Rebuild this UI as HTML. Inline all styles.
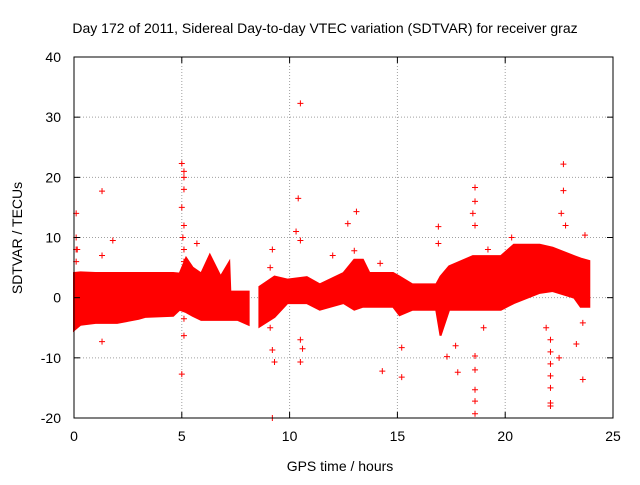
<!DOCTYPE html>
<html><head><meta charset="utf-8"><style>
body{margin:0;background:#fff}
svg text{font-family:"Liberation Sans",sans-serif;font-size:14px;fill:#000}
</style></head><body>
<svg id="chart" width="640" height="480" xmlns="http://www.w3.org/2000/svg">
<rect width="640" height="480" fill="#fff"/>
<text x="325" y="33" text-anchor="middle">Day 172 of 2011, Sidereal Day-to-day VTEC variation (SDTVAR) for receiver graz</text>
<text x="340" y="471" text-anchor="middle">GPS time / hours</text>
<text transform="translate(22,238) rotate(-90)" text-anchor="middle">SDTVAR / TECUs</text>
<g id="grid"></g><g id="band"></g><g id="pts"></g><g id="axes"></g>
</svg>
<script>
const xTicks=[0,5,10,15,20,25];
const yTicks=[-20,-10,0,10,20,30,40];
const bandT1=[0,0.3,1,2,3,3.3,4.6,4.9,5.2,5.5,5.9,6.3,6.8,7.2,7.25,7.6,8.1];
const bandU1=[4.1,4.2,4.1,4.1,4.1,4.1,4.1,4.0,6.6,5,4,7.1,3.5,5.9,1,1,1];
const bandL1=[-5.4,-4.5,-4.2,-4.2,-3.5,-3.2,-3.0,-2,-2.4,-3,-3.7,-3.7,-3.7,-3.7,-3.7,-3.7,-4.5];
const bandT2=[8.6,9.3,9.9,10.8,11.4,12.5,13.0,13.4,13.7,14.8,15.1,15.7,16.8,17.0,17.4,18.5,19.8,20.4,21.6,22.2,23.2,23.5,23.9];
const bandU2=[1.8,3.5,3.0,3.4,2.2,4.1,6.3,6.3,4.1,4.1,3.5,2.2,2.2,3.5,5.2,6.9,6.9,8.8,8.8,8.3,6.9,6.5,6.1];
const bandL2=[-4.8,-3.2,-0.9,-0.9,-2,-0.9,-2,-1.5,-1.5,-1.5,-2.9,-2,-2,-6.3,-2,-2,-2,-0.9,0.8,1.1,0,-1.5,-1.5];
const ptT=[0.1,0.1,0.15,1.3,1.3,1.8,5.0,5.0,5.1,5.1,5.0,5.1,5.1,5.05,5.7,9.2,9.2,9.3,9.2,10.5,10.4,10.3,10.5,10.5,10.6,12.0,12.7,13.1,13.0,14.3,14.2,15.2,15.2,16.9,16.9,17.3,17.8,17.7,18.6,18.5,18.6,18.6,18.6,18.6,19.2,20.3,22.1,22.1,22.1,22.1,22.7,22.7,22.6,23.3,23.6,23.6,23.7,19.0,21.9,22.5,5.1,5.1,10.5,18.6,22.8,0.1,0.1,5.1,5.1,18.6,18.6,22.1,22.1,22.1,1.3,9.1,9.1];
const ptV=[14,10,8,17.7,-7.3,9.5,22.3,15,20,18,-12.7,-6.3,-3.5,10,9,8,-8.7,-10.7,-20,32.3,16.5,11,-7,-10.7,-8.5,7,12.3,14.3,7.8,-12.2,5.7,-13.2,-8.3,11.8,9,-9.8,-12.4,-8,18.3,14,-15.3,-17.2,-19.3,-9.7,8,10,-17.5,-18,-11,-7,22.2,17.8,14,-7.7,-13.6,-4.2,10.4,-5,-5,-10,12,6,9.5,16,12,6,8,21,8,12,-12,-9,-13,-15,7,5,-5];
const X=t=>74+t*(613-74)/25;
const Y=v=>418-(v+20)*(418-57)/60;
const NS='http://www.w3.org/2000/svg';
function mk(tag,attrs,parent){const e=document.createElementNS(NS,tag);for(const k in attrs)e.setAttribute(k,attrs[k]);document.getElementById(parent).appendChild(e);return e;}
xTicks.forEach(t=>{
 if(t>0&&t<25){const l=mk('line',{x1:X(t),x2:X(t),y1:57,y2:418,stroke:'#a0a0a0','stroke-dasharray':'1,2'},'grid');
 
 }
 const tx=mk('text',{x:X(t),y:441,'text-anchor':'middle'},'axes');tx.textContent=t;
 
 
 mk('line',{x1:X(t),x2:X(t),y1:418,y2:412,stroke:'#000'},'axes');
 mk('line',{x1:X(t),x2:X(t),y1:57,y2:63,stroke:'#000'},'axes');
});
yTicks.forEach(v=>{
 if(v>-20&&v<40){const l=mk('line',{x1:74,x2:613,y1:Y(v),y2:Y(v),stroke:'#a0a0a0','stroke-dasharray':'1,2'},'grid');
 
 }
 const tx=mk('text',{x:61,y:Y(v)+5,'text-anchor':'end'},'axes');tx.textContent=v;
 
 
 mk('line',{x1:74,x2:80,y1:Y(v),y2:Y(v),stroke:'#000'},'axes');
 mk('line',{x1:613,x2:607,y1:Y(v),y2:Y(v),stroke:'#000'},'axes');
});
const frame=mk('rect',{x:74,y:57,width:539,height:361,fill:'none',stroke:'#000'},'axes');


function band(T,U,L){
 let d='M'+T.map((t,i)=>X(t)+','+Y(U[i])).join('L');
 for(let i=T.length-1;i>=0;i--)d+='L'+X(T[i])+','+Y(L[i]);
 const p=mk('path',{d:d+'Z',fill:'#ff0000',stroke:'#ff0000','stroke-width':2},'band');
 
 
}
band(bandT1,bandU1,bandL1);band(bandT2,bandU2,bandL2);
ptT.forEach((t,i)=>{
 const x=X(t),y=Y(ptV[i]);
 const p=mk('path',{d:`M${x-3},${y}H${x+3}M${x},${y-3}V${y+3}`,stroke:'#ff0000','stroke-width':1},'pts');
 
 
});
</script>
</body></html>
